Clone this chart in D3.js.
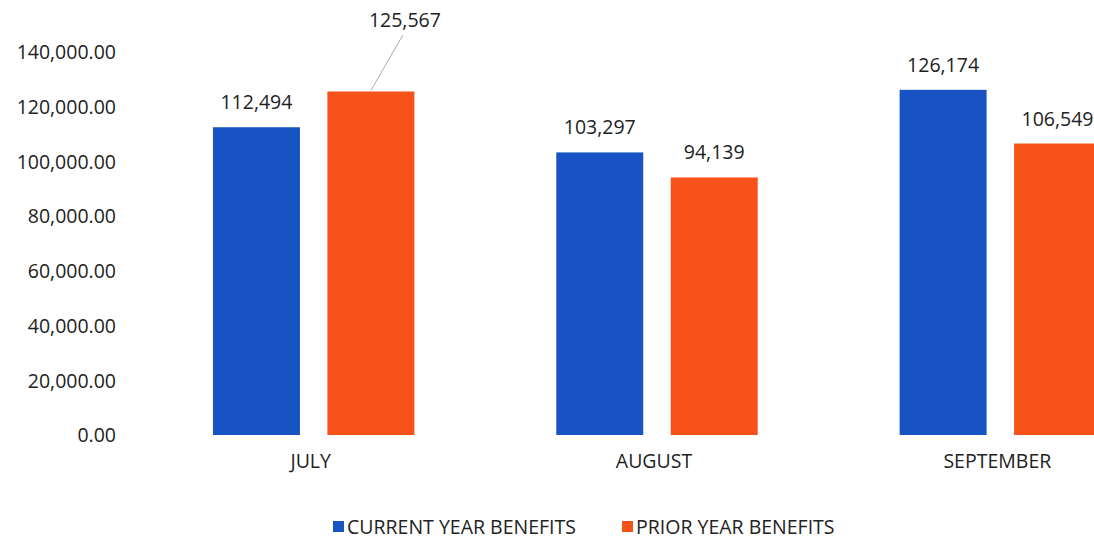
<!DOCTYPE html>
<html>
<head>
<meta charset="utf-8">
<script src="https://cdn.jsdelivr.net/npm/d3@7"></script>
<style>
  body { margin: 0; background: #fff; }
  svg text { font-family: "Open Sans", sans-serif; fill: #222; }
</style>
</head>
<body>
<div id="chart"></div>
<script>
// data
const months = ["JULY", "AUGUST", "SEPTEMBER"];
const seriesNames = ["CURRENT YEAR BENEFITS", "PRIOR YEAR BENEFITS"];
const currentYear = [112494, 103297, 126174];
const priorYear = [125567, 94139, 106549];
const yTicks = [0, 20000, 40000, 60000, 80000, 100000, 120000, 140000];

const colors = ["#1753c2", "#f6521a"];

let width = 1094, height = 540;
let margin = { top: 52, right: -78, bottom: 105, left: 142 };

let svg = d3.select("#chart").append("svg")
    .attr("width", width)
    .attr("height", height);

let x = d3.scaleBand()
    .domain(months)
    .range([margin.left, width - margin.right])
    .paddingInner(0)
    .paddingOuter(0);

let x1 = d3.scaleBand()
    .domain(seriesNames)
    .range([0, x.bandwidth()])
    .paddingInner(0.24)
    .paddingOuter(0.62);

let y = d3.scaleLinear()
    .domain([0, 140000])
    .range([height - margin.bottom, margin.top]);

// y axis labels
let yAxis = d3.axisLeft(y)
    .tickValues(yTicks)
    .tickSize(0)
    .tickPadding(0)
    .tickFormat(d3.format(",.2f"));

svg.append("g")
    .attr("transform", "translate(116,0)")
    .call(yAxis)
    .call(g => g.select(".domain").remove())
    .selectAll("text")
    .style("font-size", "19.5px")
    .attr("dy", "0.35em");

// x axis labels
let xAxis = d3.axisBottom(x).tickSize(0).tickPadding(0);
svg.append("g")
    .attr("transform", "translate(-3," + (height - margin.bottom + 26) + ")")
    .call(xAxis)
    .call(g => g.select(".domain").remove())
    .selectAll("text")
    .style("font-size", "19.5px")
    .attr("dy", "0.35em");

let rows = months.map((m, i) => ({ month: m, values: [currentYear[i], priorYear[i]] }));

let groups = svg.selectAll(".grp")
    .data(rows)
    .join("g")
    .attr("class", "grp")
    .attr("transform", d => "translate(" + x(d.month) + ",0)");

groups.selectAll("rect")
    .data(d => d.values.map((v, j) => ({ key: seriesNames[j], value: v, j: j, month: d.month })))
    .join("rect")
    .attr("x", d => x1(d.key))
    .attr("width", x1.bandwidth())
    .attr("y", d => y(d.value))
    .attr("height", d => y(0) - y(d.value))
    .attr("fill", d => colors[d.j]);

// value labels (the july prior label was dragged up with a leader line)
groups.selectAll(".val")
    .data(d => d.values.map((v, j) => ({ key: seriesNames[j], value: v, j: j, month: d.month })))
    .join("text")
    .attr("class", "val")
    .attr("text-anchor", "middle")
    .style("font-size", "19.5px")
    .attr("x", d => x1(d.key) + x1.bandwidth() / 2 + (d.month == "JULY" && d.j == 1 ? 34 : 0))
    .attr("y", d => (d.month == "JULY" && d.j == 1) ? 27 : y(d.value) - 18)
    .text(d => d3.format(",")(d.value));

groups.filter(d => d.month == "JULY")
    .append("line")
    .attr("x1", x1(seriesNames[1]) + x1.bandwidth() / 2)
    .attr("y1", y(priorYear[0]) - 1)
    .attr("x2", x1(seriesNames[1]) + x1.bandwidth() / 2 + 32)
    .attr("y2", 35)
    .attr("stroke", "#aaa")
    .attr("stroke-width", 1);

// legend
let legend = svg.append("g").attr("transform", "translate(333," + (height - 6) + ")");
let lx = [0, 289];
seriesNames.forEach((s, i) => {
    legend.append("rect")
        .attr("x", lx[i])
        .attr("y", -13)
        .attr("width", 11)
        .attr("height", 11)
        .attr("fill", colors[i]);
    legend.append("text")
        .attr("x", lx[i] + 14)
        .attr("y", 0)
        .style("font-size", "19.5px")
        .text(s);
});
</script>
</body>
</html>
